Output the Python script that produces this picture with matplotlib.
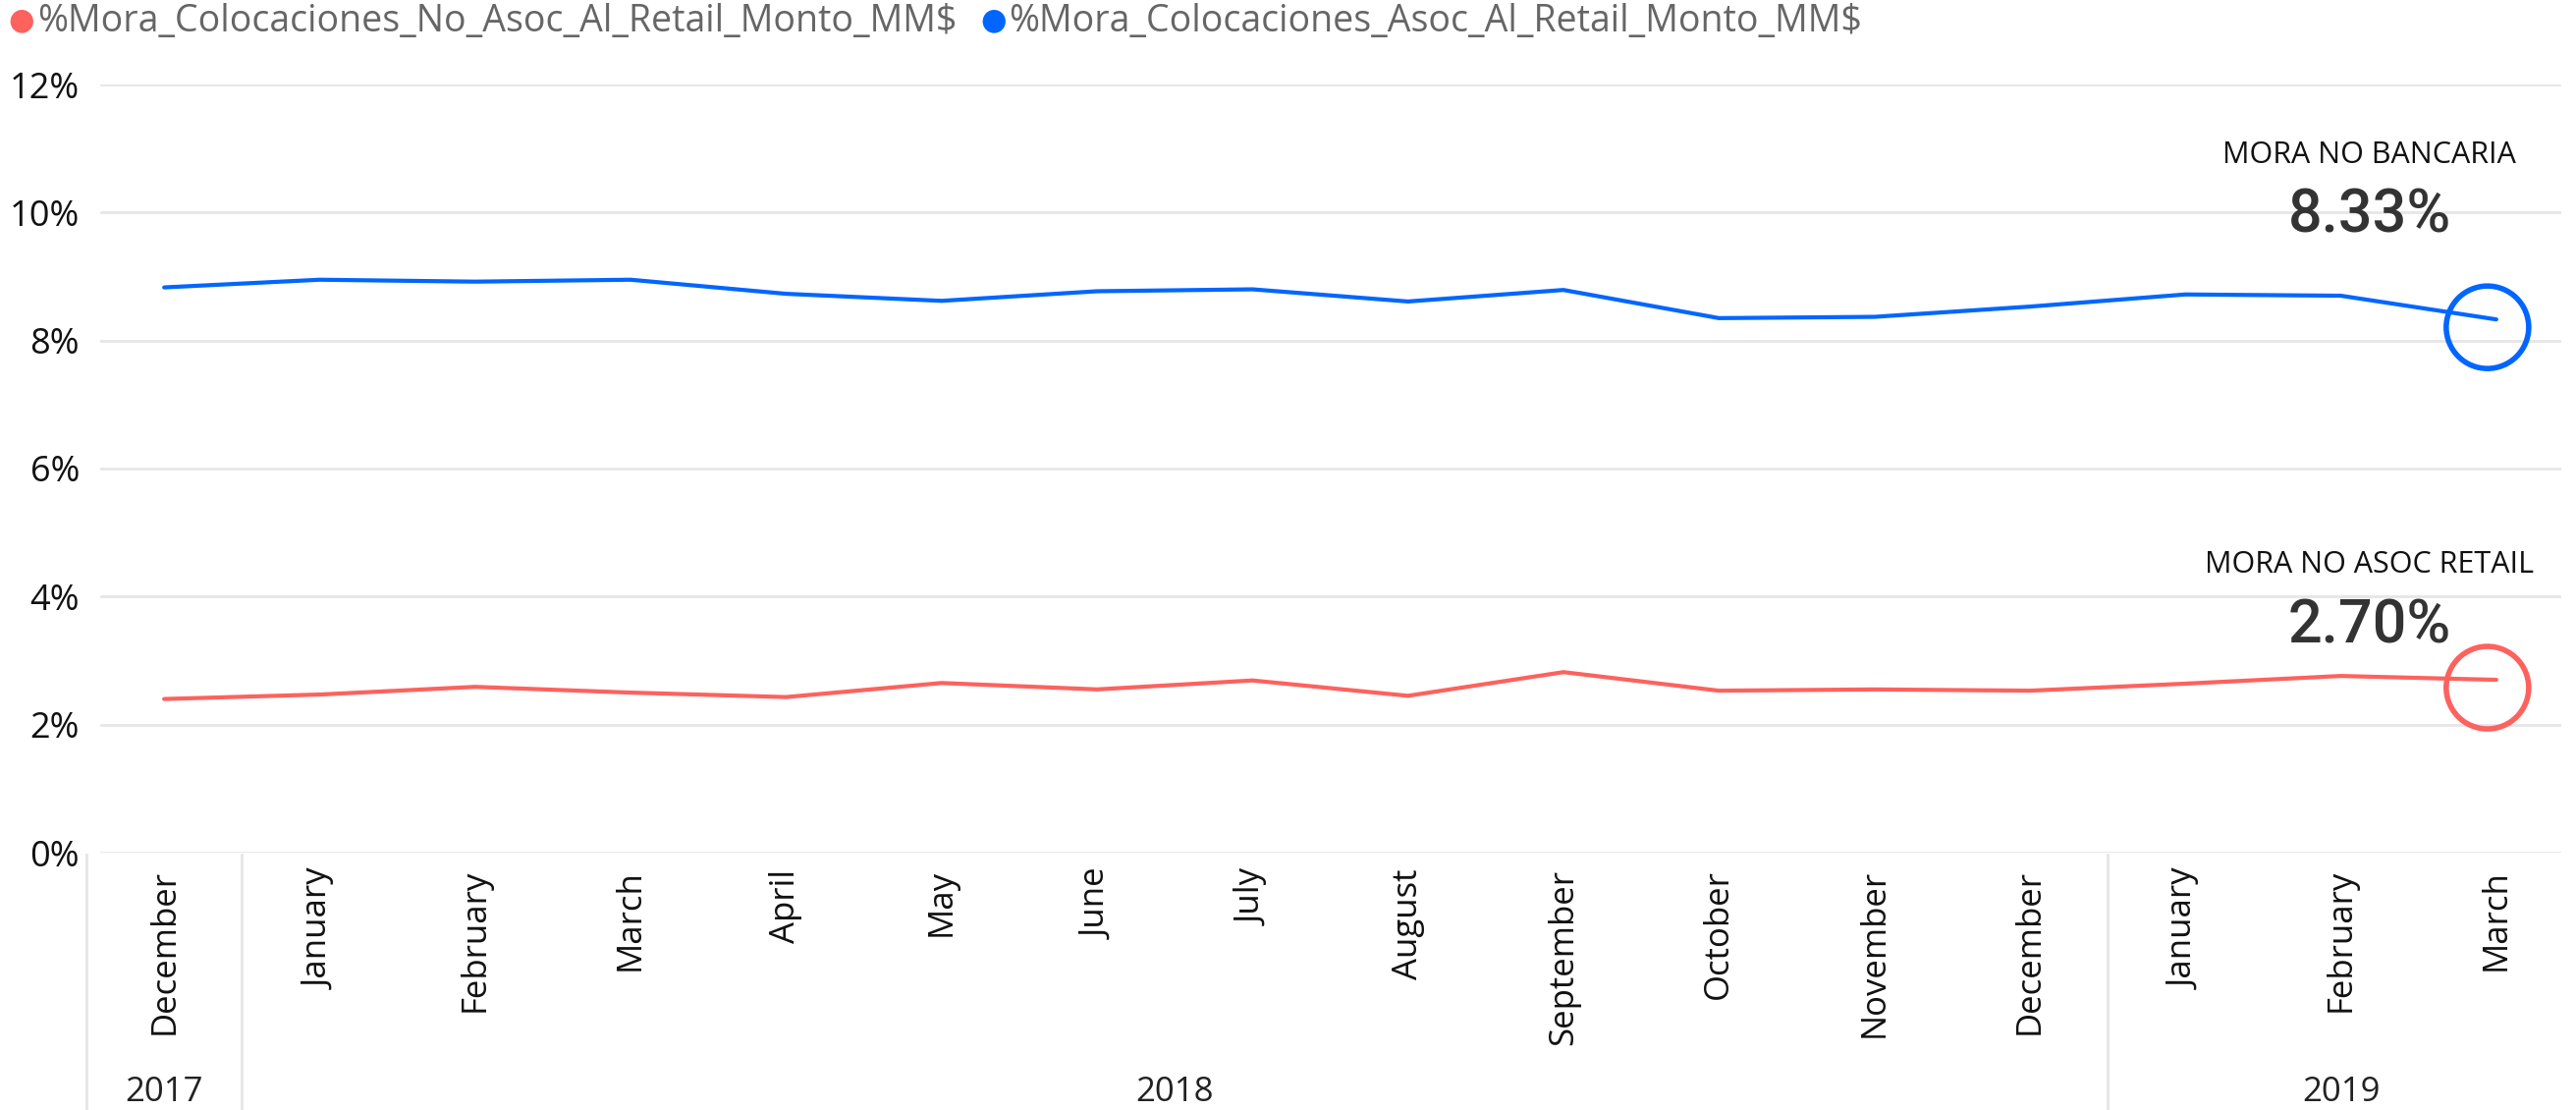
import matplotlib
matplotlib.use("Agg")
import matplotlib.pyplot as plt
import matplotlib.transforms as mtransforms
from matplotlib.patches import Ellipse

# datos (en %)
meses = ["December", "January", "February", "March", "April", "May", "June", "July",
         "August", "September", "October", "November", "December", "January", "February", "March"]
anios = ["2017", "2018", "2019"]
anio_inicio = [0, 1, 13]
anio_fin = [0, 12, 15]

mora_no_asoc = [2.40, 2.47, 2.59, 2.50, 2.43, 2.65, 2.55, 2.69,
                2.45, 2.82, 2.53, 2.55, 2.53, 2.64, 2.76, 2.70]
mora_asoc = [8.83, 8.95, 8.92, 8.95, 8.73, 8.62, 8.77, 8.80,
             8.61, 8.79, 8.35, 8.37, 8.53, 8.72, 8.70, 8.33]
yticks = [0, 2, 4, 6, 8, 10, 12]

nombre_rojo = "%Mora_Colocaciones_No_Asoc_Al_Retail_Monto_MM$"
nombre_azul = "%Mora_Colocaciones_Asoc_Al_Retail_Monto_MM$"

rojo = "#FD625E"
azul = "#0066FF"

plt.rcParams['font.family'] = ['Open Sans', 'DejaVu Sans']

fig = plt.figure(figsize=(26.23, 11.30), dpi=100)
ax = fig.add_axes([88 / 2623, 1 - 868 / 1130, (2621 - 88) / 2623, (868 - 86) / 1130])

x = list(range(len(meses)))
ax.plot(x, mora_no_asoc, color=rojo, lw=3, solid_capstyle='round', zorder=3)
ax.plot(x, mora_asoc, color=azul, lw=3, solid_capstyle='round', zorder=3)

ax.set_xlim(-0.5, len(meses) - 0.5)
ax.set_ylim(0, 12)

for t in yticks:
    ax.axhline(t, xmin=0.006, xmax=0.994, color="#e6e6e6", lw=2, zorder=1)

ax.set_yticks(yticks)
ax.set_yticklabels([f"{t}%" for t in yticks], fontsize=26, color="#111111")
ax.set_xticks(x)
ax.set_xticklabels(meses, rotation=90, fontsize=25, color="#111111", va="top")
ax.tick_params(axis='both', length=0)
ax.tick_params(axis='x', pad=12)
ax.tick_params(axis='y', pad=5)
for s in ax.spines.values():
    s.set_visible(False)

# anios y separadores
trans = mtransforms.blended_transform_factory(ax.transData, ax.transAxes)
for nombre, i0, i1 in zip(anios, anio_inicio, anio_fin):
    ax.text((i0 + i1) / 2, -0.312, nombre, transform=trans, ha="center", va="center",
            fontsize=25, color="#222222")
for sep in [-0.5, 0.5, 12.5]:
    ax.plot([sep, sep], [-0.003, -0.34], transform=trans, color="#e6e6e6", lw=2, clip_on=False)

# circulos y etiquetas del ultimo punto
ult = len(meses) - 1
for serie, col, titulo, dy_t, dy_n in [(mora_asoc, azul, "MORA NO BANCARIA", 167, 106),
                                       (mora_no_asoc, rojo, "MORA NO ASOC RETAIL", 117, 55)]:
    v = serie[-1]
    px, py = ax.transData.transform((ult, v))
    c = ax.transData.inverted().transform((px - 9, py - 8))
    r_x = 42 / (2533 / 16)
    r_y = 42 / (782 / 12)
    ax.add_patch(Ellipse(c, 2 * r_x, 2 * r_y, fill=False, edgecolor=col, lw=4,
                         clip_on=False, zorder=4))
    tx = ax.transData.inverted().transform((px - 129, py))[0]
    ax.annotate(titulo, (tx, v), xytext=(0, dy_t), textcoords="offset pixels",
                ha="center", va="center", fontsize=22, color="#111111")
    ax.annotate(f"{v:.2f}%", (tx, v), xytext=(0, dy_n), textcoords="offset pixels",
                ha="center", va="center", fontsize=44, color="#333333",
                family=["Roboto", "DejaVu Sans"], fontweight="medium")

# leyenda
fig.text(8 / 2623, 1 - 21 / 1130, "\u25CF", color=rojo, fontsize=22, ha="left", va="center",
         family=["DejaVu Sans"])
fig.text(38 / 2623, 1 - 22 / 1130, nombre_rojo, color="#666666", fontsize=27, ha="left", va="center")
fig.text(998 / 2623, 1 - 21 / 1130, "\u25CF", color=azul, fontsize=22, ha="left", va="center",
         family=["DejaVu Sans"])
fig.text(1027 / 2623, 1 - 22 / 1130, nombre_azul, color="#666666", fontsize=27, ha="left", va="center")

fig.savefig("out.png", dpi=100, facecolor="white")
